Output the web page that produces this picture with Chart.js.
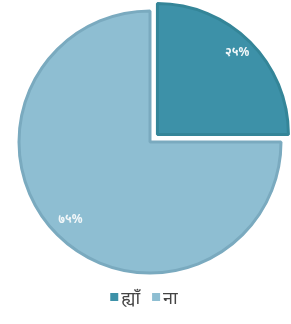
<!DOCTYPE html>
<html>
<head>
<meta charset="utf-8">
<script src="https://cdn.jsdelivr.net/npm/chart.js@4"></script>
<style>
html,body{margin:0;padding:0;background:#fff;}
#wrap{width:291px;height:324px;}
</style>
</head>
<body>
<div id="wrap"><canvas id="c"></canvas></div>
<script>
const categories = ['ह्याँ', 'ना'];
const values = [25, 75];
const fillColors = ['#3d91a8', '#8ebed2'];
const borderColors = ['#348598', '#7aaabf'];
const offsets = [42, 0];

const devDigits = ['०','१','२','३','४','५','६','७','८','९'];
function toDev(n){ return String(n).split('').map(d => /\d/.test(d) ? devDigits[+d] : d).join(''); }

const sliceLabels = {
  id: 'sliceLabels',
  afterDatasetsDraw(chart) {
    const ctx = chart.ctx;
    const meta = chart.getDatasetMeta(0);
    const total = values.reduce((a, b) => a + b, 0);
    ctx.save();
    ctx.font = 'bold 12px "Noto Sans", "DejaVu Sans", sans-serif';
    ctx.fillStyle = '#f2f7f9';
    ctx.textAlign = 'center';
    ctx.textBaseline = 'middle';
    meta.data.forEach((arc, i) => {
      const p = arc.getProps(['x', 'y', 'startAngle', 'endAngle', 'outerRadius'], true);
      const mid = (p.startAngle + p.endAngle) / 2;
      const off = (arc.options.offset || 0) / 4;
      const r = p.outerRadius * 0.86;
      const x = p.x + Math.cos(mid) * (r + off);
      const y = p.y + Math.sin(mid) * (r + off) - 2;
      const pct = Math.round(values[i] / total * 100);
      ctx.fillText(toDev(pct) + '%', x, y);
    });
    ctx.restore();
  }
};

// compact legend below the pie, centred under it
const compactLegend = {
  id: 'compactLegend',
  afterDraw(chart) {
    const ctx = chart.ctx;
    const box = 8, gap = 3, itemGap = 12;
    ctx.save();
    ctx.font = '18px "Noto Sans", "DejaVu Sans", sans-serif';
    const widths = categories.map(t => ctx.measureText(t).width);
    const total = widths.reduce((a, w) => a + box + gap + w, 0) + itemGap * (categories.length - 1);
    const area = chart.chartArea;
    const cx = (area.left + area.right) / 2 - 6;
    const cy = area.bottom + 14;
    let x = cx - total / 2;
    ctx.textBaseline = 'middle';
    ctx.textAlign = 'left';
    categories.forEach((t, i) => {
      ctx.fillStyle = fillColors[i];
      ctx.fillRect(x, cy - box / 2 - 1, box, box);
      x += box + gap;
      ctx.fillStyle = '#444';
      ctx.fillText(t, x, cy + 1);
      x += widths[i] + itemGap;
    });
    ctx.restore();
  }
};

new Chart(document.getElementById('c'), {
  type: 'pie',
  data: {
    labels: categories,
    datasets: [{
      data: values,
      backgroundColor: fillColors,
      borderColor: borderColors,
      borderWidth: 3,
      offset: offsets,
      radius: 131
    }]
  },
  options: {
    responsive: true,
    maintainAspectRatio: false,
    animation: false,
    layout: { padding: { left: 9, right: 0, top: 0, bottom: 40 } },
    plugins: {
      tooltip: { enabled: false },
      legend: { display: false }
    }
  },
  plugins: [sliceLabels, compactLegend]
});
</script>
</body>
</html>
